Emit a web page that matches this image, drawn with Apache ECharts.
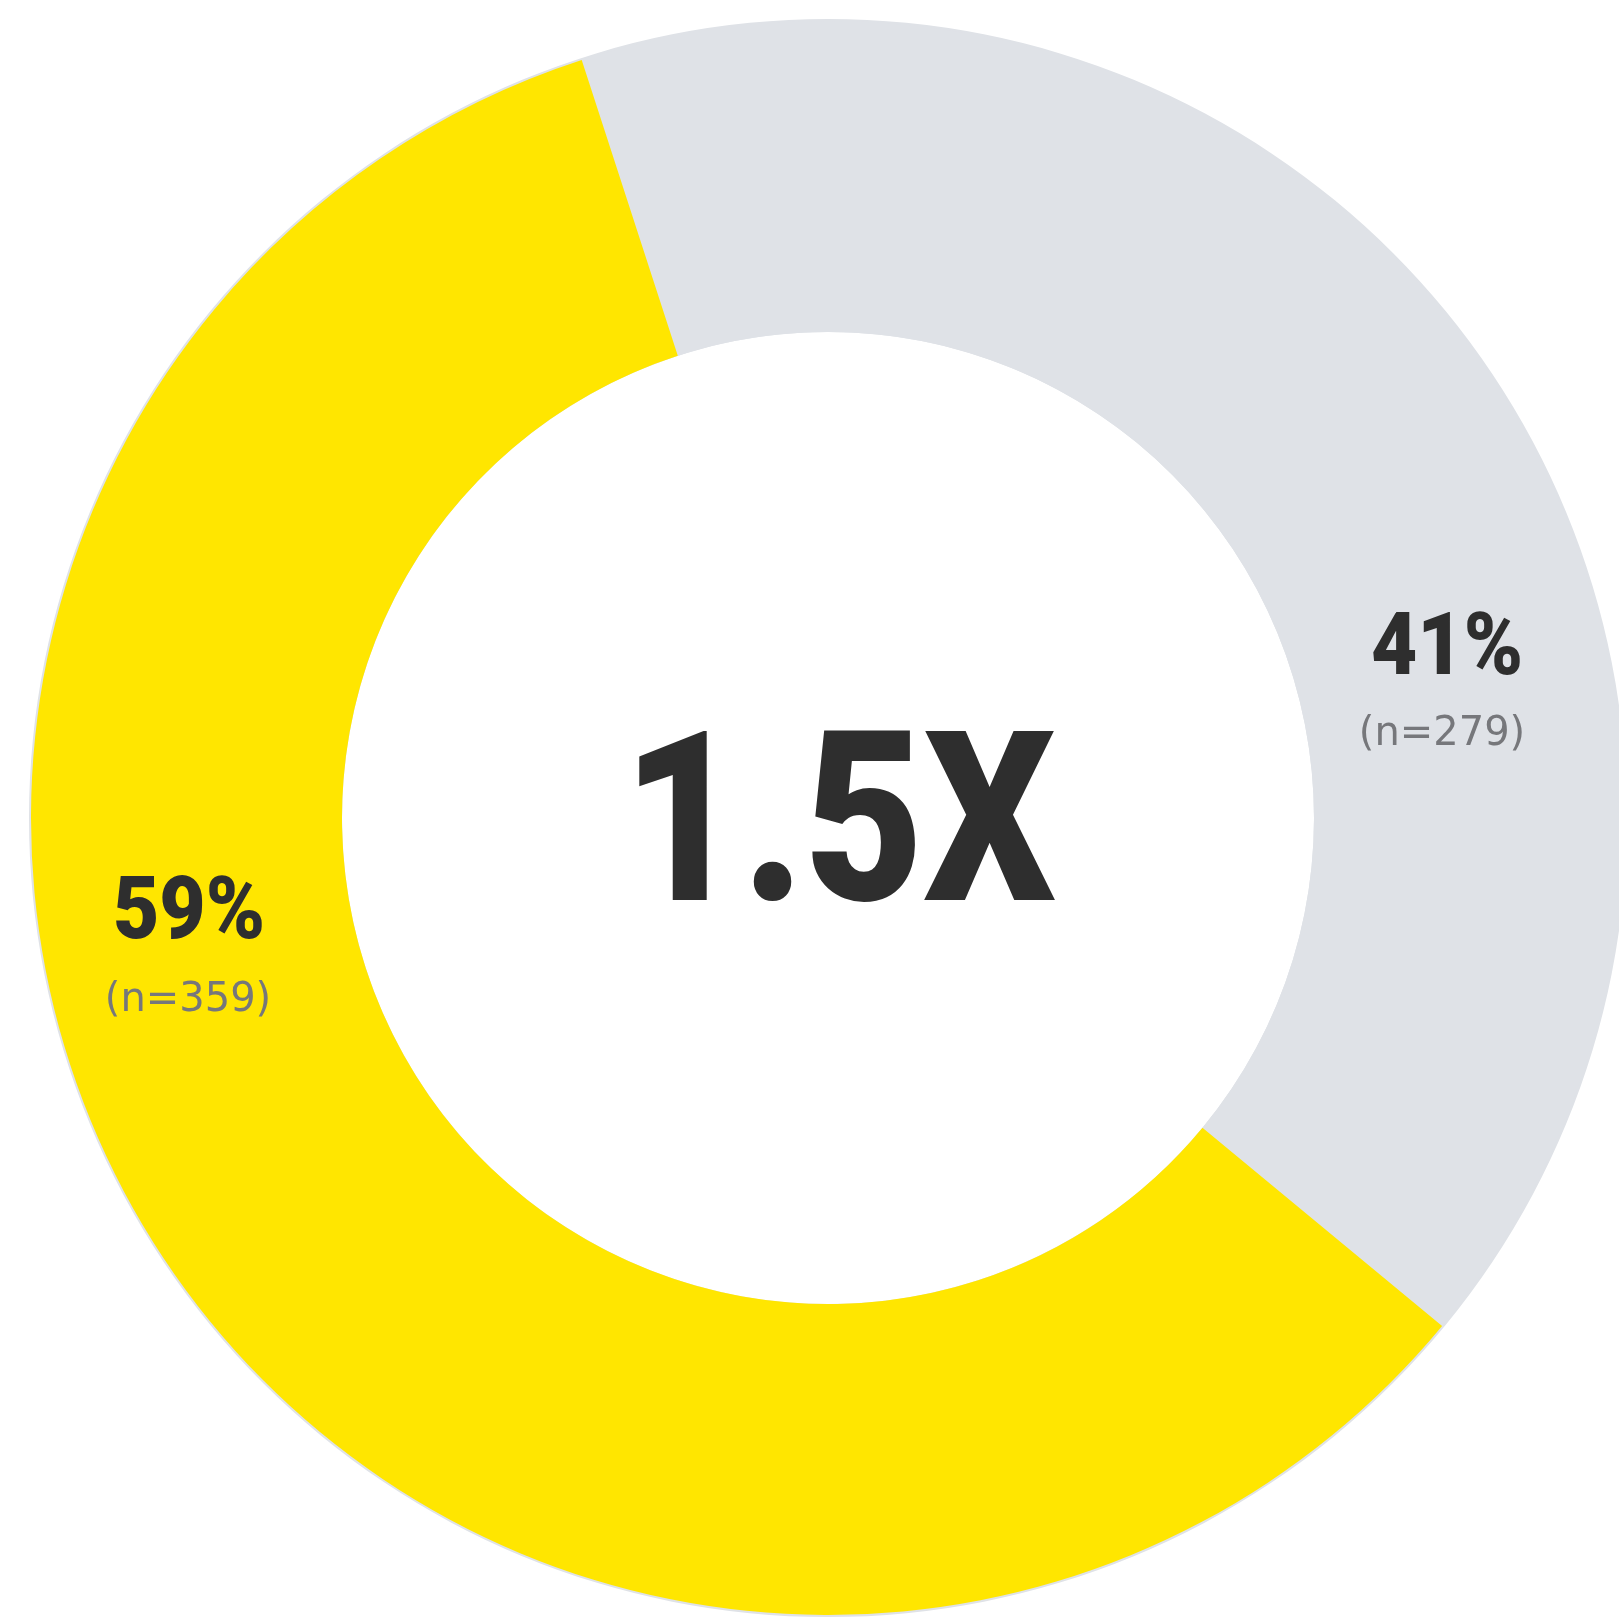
<!DOCTYPE html>
<html><head><meta charset="utf-8">
<script src="https://cdn.jsdelivr.net/npm/echarts@6/dist/echarts.min.js"></script>
<style>html,body{margin:0;padding:0;background:#fff}#c{width:1619px;height:1617px}</style>
</head><body><div id="c"></div>
<script>
// Data
const categories = ['Others', 'Leaders'];
const shares = [41, 59];          // percent
const counts = [279, 359];        // n
const sliceColors = ['#DFE2E7', '#FFE600'];
const centerText = '1.5X';

const chart = echarts.init(document.getElementById('c'), null, {renderer: 'canvas'});
const CX = 828, CY = 818;

const labelPos = [
  {pct: [1447, 652], n: [1442, 735]},
  {pct: [189, 916], n: [188, 1001]}
];

const graphics = [{
  type: 'text', x: 839, y: 841, scaleX: 0.87, z: 10, silent: true,
  style: {text: centerText, font: '900 237px Roboto', fill: '#2E2E2E', textAlign: 'center', textVerticalAlign: 'middle'}
}];
shares.forEach((v, i) => {
  graphics.push({
    type: 'text', x: labelPos[i].pct[0], y: labelPos[i].pct[1], scaleX: 0.92, z: 10, silent: true,
    style: {text: v + '%', font: '900 87px Roboto', fill: '#2E2E2E', textAlign: 'center', textVerticalAlign: 'middle'}
  });
  graphics.push({
    type: 'text', x: labelPos[i].n[0], y: labelPos[i].n[1], z: 10, silent: true,
    style: {text: '(n=' + counts[i] + ')', font: '40px "DejaVu Sans"', fill: '#76777B', textAlign: 'center', textVerticalAlign: 'middle'}
  });
});

chart.setOption({
  backgroundColor: '#ffffff',
  animation: false,
  series: [
    {
      type: 'pie', z: 1, silent: true, center: [CX, CY], radius: [486, 799],
      label: {show: false}, labelLine: {show: false},
      data: [{value: 1, itemStyle: {color: sliceColors[0]}}]
    },
    {
      type: 'pie', z: 2, silent: true, center: [CX, CY], radius: [486, 797],
      startAngle: 108, clockwise: true, avoidLabelOverlap: false,
      label: {show: false}, labelLine: {show: false},
      emphasis: {disabled: true},
      data: categories.map((c, i) => ({name: c, value: shares[i], itemStyle: {color: sliceColors[i], borderWidth: 0}}))
    }
  ],
  graphic: graphics
});
</script></body></html>
